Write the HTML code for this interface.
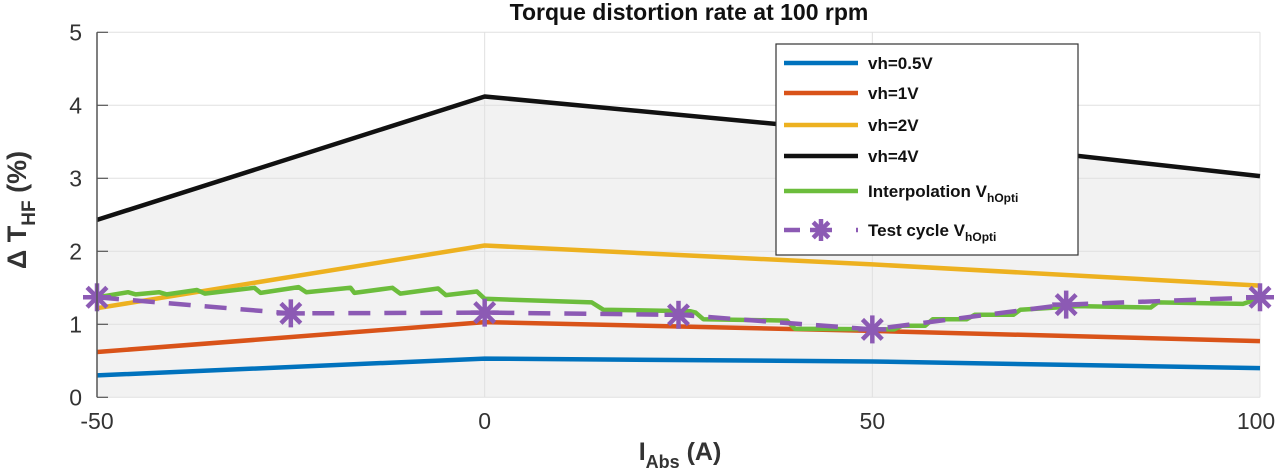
<!DOCTYPE html>
<html><head><meta charset="utf-8"><style>
body{margin:0;background:#fff;}
svg{display:block;font-family:"Liberation Sans",Arial,sans-serif;}
</style></head><body>
<svg id="chart" width="1280" height="471" viewBox="0 0 1280 471" xmlns="http://www.w3.org/2000/svg">
<text x="689" y="20" text-anchor="middle" font-size="23" font-weight="bold" fill="#111">Torque distortion rate at 100 rpm</text>
<g id="plot"></g>
<g id="axes"></g>
<text transform="translate(26,210) rotate(-90)" text-anchor="middle" font-size="27" font-weight="bold" fill="#333">Δ T<tspan font-size="19" dy="9">HF</tspan><tspan dy="-9"> (%)</tspan></text>
<text x="680" y="460" text-anchor="middle" font-size="25" font-weight="bold" fill="#333">I<tspan font-size="18" dy="8">Abs</tspan><tspan dy="-8"> (A)</tspan></text>
<g>
<rect x="776" y="44" width="302" height="211" fill="#fff" stroke="#333" stroke-width="1.2"/>
<g id="legend-entries"></g>
</g>
</svg>
<script>
const xTicks=[-50,0,50,100];
const yTicks=[0,1,2,3,4,5];
const xBase=[-50,0,50,100];
const blueVals=[0.30,0.53,0.49,0.40];
const redVals=[0.62,1.03,0.91,0.77];
const yellowVals=[1.22,2.08,1.82,1.53];
const blackVals=[2.43,4.12,3.62,3.03];
const greenX=[-50,-46,-45,-42,-41,-37.1,-36.1,-29.7,-28.9,-24,-23,-17.3,-16.8,-11.9,-10.9,-6,-5,-1,0,13.8,15.3,26.5,27.2,28.2,39,40,52.8,53.8,56.8,57.8,62.2,63.2,68.2,69.1,76.6,85.9,86.8,97.8,99.8,100];
const greenVals=[1.37,1.44,1.41,1.44,1.41,1.47,1.42,1.50,1.43,1.51,1.44,1.50,1.43,1.50,1.42,1.49,1.40,1.45,1.35,1.30,1.20,1.18,1.16,1.07,1.05,0.94,0.93,0.98,0.98,1.07,1.07,1.13,1.13,1.20,1.25,1.23,1.30,1.28,1.35,1.35];
const testX=[-50,-25,0,25,50,75,100];
const testVals=[1.37,1.15,1.16,1.13,0.93,1.27,1.37];
const legendLabels=["vh=0.5V","vh=1V","vh=2V","vh=4V","Interpolation V","Test cycle V"];

const NS="http://www.w3.org/2000/svg";
const X0=97,X1=1260,Y0=397.3,Y5=32.3;
function sx(v){return X0+(v+50)/150*(X1-X0);}
function sy(v){return Y0+(v/5)*(Y5-Y0);}
function mk(tag,attrs,parent){const e=document.createElementNS(NS,tag);for(const k in attrs)e.setAttribute(k,attrs[k]);parent.appendChild(e);return e;}
const plot=document.getElementById('plot'),axes=document.getElementById('axes');
function pts(xs,ys){return xs.map((x,i)=>sx(x).toFixed(1)+','+sy(ys[i]).toFixed(1)).join(' ');}

let fill=mk('polygon',{points:sx(-50)+','+sy(0)+' '+pts(xBase,blackVals)+' '+sx(100)+','+sy(0),fill:'#f2f2f2'},plot);


yTicks.forEach(t=>{const g=mk('line',{x1:X0,x2:X1,y1:sy(t),y2:sy(t),stroke:'#e0e0e0','stroke-width':1},plot);

});
xTicks.forEach(t=>{const g=mk('line',{x1:sx(t),x2:sx(t),y1:Y5,y2:Y0,stroke:'#e0e0e0','stroke-width':1},plot);

});

function series(xs,ys,color,name,extra){const p=mk('polyline',Object.assign({points:pts(xs,ys),fill:'none',stroke:color,'stroke-width':4.5,'stroke-linejoin':'round'},extra||{}),plot);

}
series(xBase,blueVals,'#0072BD','series-vh-0.5v');
series(xBase,redVals,'#D95319','series-vh-1v');
series(xBase,yellowVals,'#EDB120','series-vh-2v');
series(xBase,blackVals,'#111','series-vh-4v');
series(greenX,greenVals,'#6cbd3c','series-interpolation');
series(testX,testVals,'#8c5ab4','series-test-cycle',{'stroke-dasharray':'22,14','stroke-linejoin':'miter'});
function star(cx,cy,r,parent){const g=mk('g',{stroke:'#8c5ab4','stroke-width':4.5,'stroke-linecap':'butt'},parent);
for(let k=0;k<4;k++){const a=k*Math.PI/4;mk('line',{x1:cx-r*Math.sin(a),y1:cy-r*Math.cos(a),x2:cx+r*Math.sin(a),y2:cy+r*Math.cos(a)},g);}return g;}
testX.forEach((x,i)=>{const s=star(sx(x),sy(testVals[i]),14,plot);

});

let ax=mk('line',{x1:X0,x2:X0,y1:Y5,y2:Y0,stroke:'#555','stroke-width':1.5},axes);


yTicks.forEach(t=>{mk('line',{x1:X0,x2:X0+11,y1:sy(t),y2:sy(t),stroke:'#555','stroke-width':1.2},axes);
const l=mk('text',{x:X0-15,y:sy(t)+8,'text-anchor':'end','font-size':23,fill:'#333'},axes);l.textContent=t;

});
xTicks.forEach(t=>{const l=mk('text',{x:sx(t)+(t===100?-4:0),y:429,'text-anchor':'middle','font-size':23,fill:'#333'},axes);l.textContent=t;

});

const le=document.getElementById('legend-entries');
const lColors=['#0072BD','#D95319','#EDB120','#111','#6cbd3c','#8c5ab4'];
const lY=[63,93,125,156,191,230];
legendLabels.forEach((lab,i)=>{const g=mk('g',{},le);


if(i<5){mk('line',{x1:784,x2:858,y1:lY[i],y2:lY[i],stroke:lColors[i],'stroke-width':4.5},g);}
else{mk('line',{x1:784,x2:800,y1:lY[i],y2:lY[i],stroke:lColors[i],'stroke-width':4.5},g);
mk('line',{x1:856,x2:858,y1:lY[i],y2:lY[i],stroke:lColors[i],'stroke-width':4.5},g);
star(821,lY[i],11,g);}
const t=mk('text',{x:868,y:lY[i]+6,'font-size':17,'font-weight':'bold',fill:'#111'},g);t.textContent=lab;
if(i>=4){const s=mk('tspan',{'font-size':12,dy:5},t);s.textContent='hOpti';}
});
</script>
</body></html>
